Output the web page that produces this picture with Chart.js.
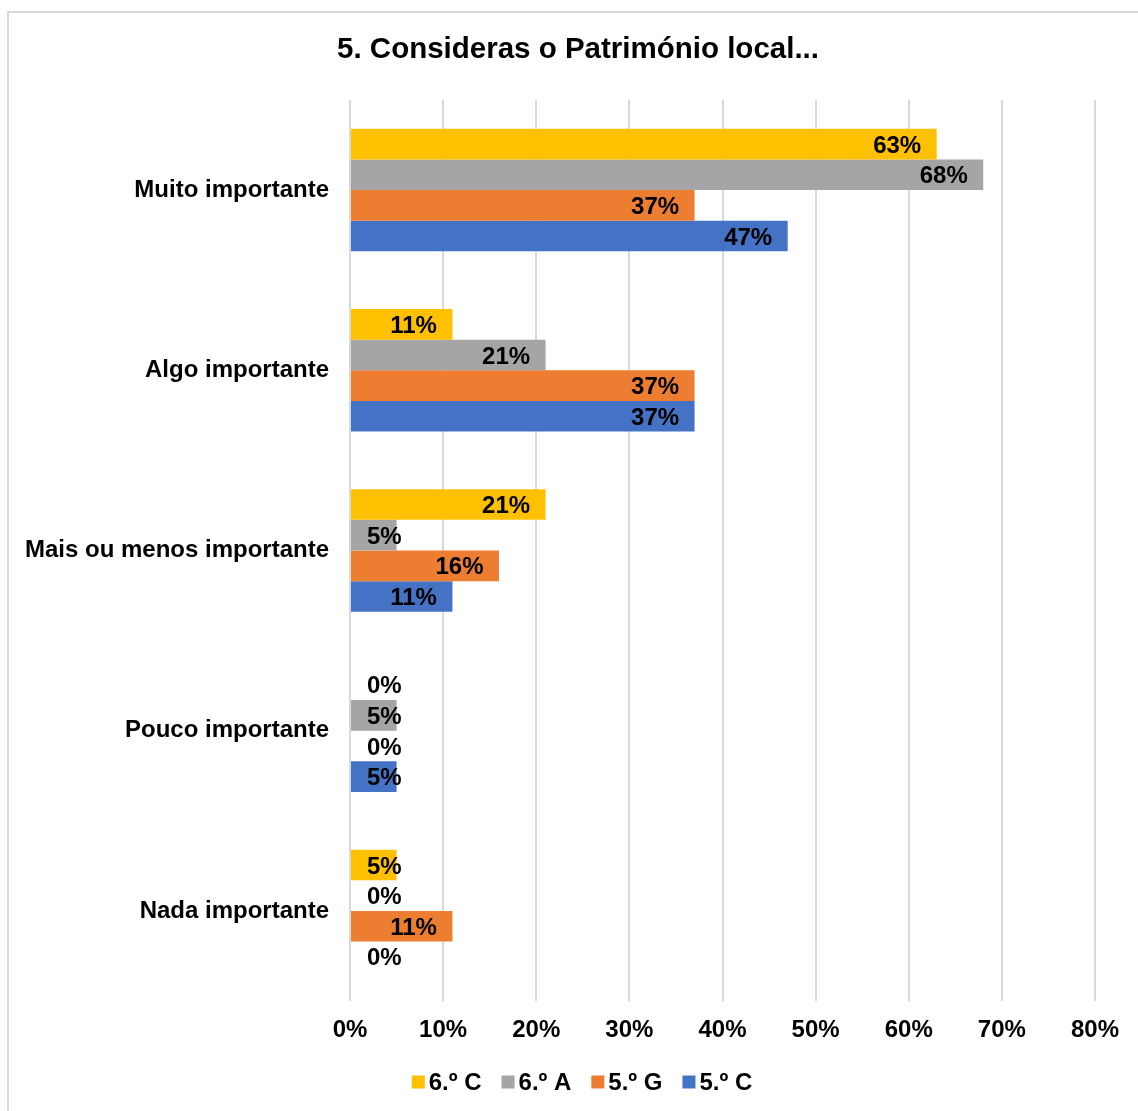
<!DOCTYPE html>
<html lang="pt">
<head>
<meta charset="utf-8">
<title>5. Consideras o Património local...</title>
<script src="https://cdn.jsdelivr.net/npm/chart.js@4.4.1/dist/chart.umd.min.js"></script>
<style>
    html, body { margin: 0; padding: 0; background: #fff; }
    #wrap { width: 1138px; height: 1111px; position: relative; }
</style>
</head>
<body>
<div id="wrap"><canvas id="chart" width="1138" height="1111"></canvas></div>
<script>
// Chart data
const chartTitle = '5. Consideras o Património local...';
const categories = ['Muito importante', 'Algo importante', 'Mais ou menos importante', 'Pouco importante', 'Nada importante'];
const seriesNames = ['6.º C', '6.º A', '5.º G', '5.º C'];
const values6C = [63, 11, 21, 0, 5];
const values6A = [68, 21, 5, 5, 0];
const values5G = [37, 37, 16, 0, 11];
const values5C = [47, 37, 11, 5, 0];
const xTicks = [0, 10, 20, 30, 40, 50, 60, 70, 80];

const seriesColors = ['#FFC000', '#A5A5A5', '#ED7D31', '#4472C4'];
const FONT = '"Liberation Sans", Arial, sans-serif';
const GRID = '#D9D9D9';
const LABEL_SIZE = 24;

// Draws the frame, title and legend (Excel style)
const decorPlugin = {
    id: 'decor',
    beforeDraw: function(chart) {
        const ctx = chart.ctx;
        ctx.save();
        ctx.fillStyle = '#fff';
        ctx.fillRect(0, 0, chart.width, chart.height);
        ctx.fillStyle = GRID;
        ctx.fillRect(7, 11, chart.width - 7, 2);
        ctx.fillRect(7, 11, 2, chart.height - 11);
        ctx.restore();
    },
    afterDraw: function(chart) {
        const ctx = chart.ctx;
        ctx.save();

        // Title
        ctx.fillStyle = '#000';
        ctx.font = 'bold 29.5px ' + FONT;
        ctx.textAlign = 'center';
        ctx.textBaseline = 'middle';
        ctx.fillText(chartTitle, 578, 50);

        // Legend
        ctx.font = 'bold ' + LABEL_SIZE + 'px ' + FONT;
        ctx.textAlign = 'left';
        const box = 13, gap = 4, itemGap = 20;
        const items = chart.data.datasets.map(function(ds) {
            return { text: ds.label, color: ds.backgroundColor, w: ctx.measureText(ds.label).width };
        });
        let total = 0;
        items.forEach(function(it, i) {
            total += box + gap + it.w + (i < items.length - 1 ? itemGap : 0);
        });
        let x = 582 - total / 2;
        const y = 1082;
        items.forEach(function(it) {
            ctx.fillStyle = it.color;
            ctx.fillRect(x, y - box / 2, box, box);
            ctx.fillStyle = '#000';
            ctx.fillText(it.text, x + box + gap, y + 1);
            x += box + gap + it.w + itemGap;
        });
        ctx.restore();
    }
};

// Value labels at the inner end of each bar
const valueLabelPlugin = {
    id: 'valueLabels',
    afterDatasetsDraw: function(chart) {
        const ctx = chart.ctx;
        const base = chart.scales.x.getPixelForValue(0);
        ctx.save();
        ctx.font = 'bold ' + LABEL_SIZE + 'px ' + FONT;
        ctx.fillStyle = '#000';
        ctx.textAlign = 'right';
        ctx.textBaseline = 'middle';
        chart.data.datasets.forEach(function(ds, di) {
            const meta = chart.getDatasetMeta(di);
            meta.data.forEach(function(el, i) {
                const text = ds.data[i] + '%';
                const w = ctx.measureText(text).width;
                const right = Math.max(el.x - 15.5, base + 17 + w);
                ctx.fillText(text, right, el.y + 2);
            });
        });
        ctx.restore();
    }
};

const allValues = [values6C, values6A, values5G, values5C];

const chart = new Chart(document.getElementById('chart').getContext('2d'), {
    type: 'bar',
    data: {
        labels: categories,
        datasets: seriesNames.map(function(name, i) {
            return {
                label: name,
                data: allValues[i],
                backgroundColor: seriesColors[i],
                borderWidth: 0,
                categoryPercentage: 0.68,
                barPercentage: 1.0
            };
        })
    },
    options: {
        indexAxis: 'y',
        responsive: false,
        animation: false,
        events: [],
        layout: {
            padding: { top: 100, left: 0, right: 43, bottom: 67 }
        },
        plugins: {
            legend: { display: false },
            title: { display: false },
            tooltip: { enabled: false }
        },
        scales: {
            x: {
                min: 0,
                max: 80,
                afterBuildTicks: function(scale) {
                    scale.ticks = xTicks.map(function(v) { return { value: v }; });
                },
                afterFit: function(scale) { scale.height = 43; },
                border: { display: false },
                grid: { color: GRID, lineWidth: 2, drawTicks: false },
                ticks: {
                    padding: 15,
                    color: '#000',
                    font: { family: FONT, size: LABEL_SIZE, weight: 'bold' },
                    callback: function(v) { return v + '%'; }
                }
            },
            y: {
                afterFit: function(scale) { scale.width = 350; },
                border: { display: false },
                grid: { display: false },
                ticks: {
                    padding: 13,
                    color: '#000',
                    font: { family: FONT, size: LABEL_SIZE, weight: 'bold' }
                }
            }
        }
    },
    plugins: [decorPlugin, valueLabelPlugin]
});
</script>
</body>
</html>
